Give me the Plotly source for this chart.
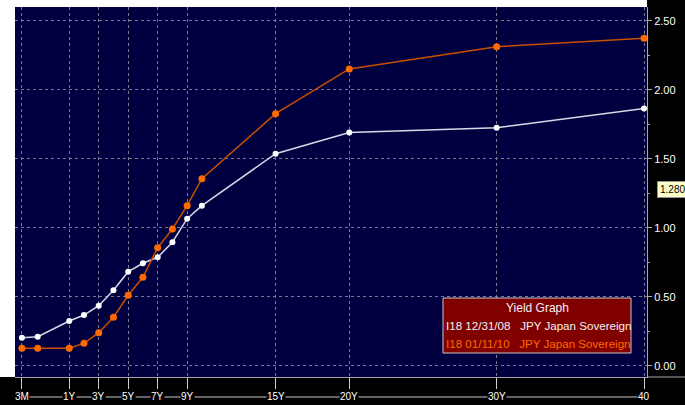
import plotly.graph_objects as go

# ---- data ----
tenors = ["3M", "6M", "1Y", "2Y", "3Y", "4Y", "5Y", "6Y", "7Y", "8Y", "9Y", "10Y", "15Y", "20Y", "30Y", "40Y"]
tenor_years = [0.25, 0.5, 1, 2, 3, 4, 5, 6, 7, 8, 9, 10, 15, 20, 30, 40]
yield_123108 = [0.205, 0.212, 0.326, 0.369, 0.437, 0.548, 0.683, 0.744, 0.787, 0.896, 1.067, 1.161,
                1.537, 1.690, 1.726, 1.865]
yield_011110 = [0.128, 0.128, 0.128, 0.164, 0.241, 0.353, 0.512, 0.642, 0.857, 0.992, 1.161, 1.356,
                1.827, 2.151, 2.312, 2.373]
tick_years = [0.25, 1, 3, 5, 7, 9, 15, 20, 30, 40]
tick_labels = ["3M", "1Y", "3Y", "5Y", "7Y", "9Y", "15Y", "20Y", "30Y", "40"]
ytick_vals = [0.0, 0.5, 1.0, 1.5, 2.0, 2.5]
ytick_labels = ["0.00", "0.50", "1.00", "1.50", "2.00", "2.50"]
series_names = ["I18 12/31/08\u00a0\u00a0\u00a0JPY Japan Sovereign",
                "I18 01/11/10\u00a0\u00a0\u00a0JPY Japan Sovereign"]
legend_title = "Yield Graph"
cursor_value = 1.280


def axis_pos(years):
    # Bloomberg-style stretched short end
    return years if years >= 1 else 1 - (1 - years) * 4.28


xs = [axis_pos(t) for t in tenor_years]
tick_pos = [axis_pos(t) for t in tick_years]

W, H = 685, 405
L, R, T, B = 15, 38, 7, 28
pw, ph = W - L - R, H - T - B

FONT = "Liberation Sans, Arial, sans-serif"

fig = go.Figure()
fig.add_trace(go.Scatter(
    x=xs, y=yield_123108, mode="lines+markers", name=series_names[0],
    line=dict(color="#D8D8E6", width=1.5),
    marker=dict(color="#FFFFFF", size=6),
    hoverinfo="skip"))
fig.add_trace(go.Scatter(
    x=xs, y=yield_011110, mode="lines+markers", name=series_names[1],
    line=dict(color="#C84E00", width=1.5),
    marker=dict(color="#FF6A00", size=7),
    hoverinfo="skip"))

shapes = [
    dict(type="rect", xref="paper", yref="paper", x0=1, x1=1.2, y0=-0.2, y1=1.2,
         fillcolor="black", line=dict(width=0), layer="below"),
    dict(type="rect", xref="paper", yref="paper", x0=-0.1, x1=1.2, y0=-0.2, y1=0,
         fillcolor="black", line=dict(width=0), layer="below"),
    dict(type="line", xref="paper", yref="paper", x0=1, x1=1.1, y0=0, y1=0,
         line=dict(color="#A8A8A8", width=1)),
    dict(type="line", xref="x", yref="paper", x0=tick_pos[0], x1=tick_pos[-1],
         y0=-20 / ph, y1=-20 / ph, line=dict(color="#C8C8C8", width=1)),
    dict(type="rect", xref="paper", yref="paper",
         x0=(443 - L) / pw, x1=(631 - L) / pw,
         y0=(H - B - 353) / ph, y1=(H - B - 298) / ph,
         fillcolor="#800000", line=dict(color="#C8C8C8", width=1), layer="above"),
]

annotations = []
for p, lab in zip(tick_pos, tick_labels):
    annotations.append(dict(
        x=p, xref="x", y=-20 / ph, yref="paper", text=lab, showarrow=False,
        xanchor="center", yanchor="middle", bgcolor="black", borderpad=0,
        font=dict(family=FONT, size=10, color="white")))

annotations.append(dict(
    x=(537 - L) / pw, xref="paper", y=(H - B - 308) / ph, yref="paper",
    text=legend_title, showarrow=False, xanchor="center", yanchor="middle",
    font=dict(family=FONT, size=12, color="#F0F0F0")))
annotations.append(dict(
    x=(444 - L) / pw, xref="paper", y=(H - B - 325.5) / ph, yref="paper",
    text=series_names[0], showarrow=False, xanchor="left", yanchor="middle",
    font=dict(family=FONT, size=11.6, color="#F0F0F0")))
annotations.append(dict(
    x=(444 - L) / pw, xref="paper", y=(H - B - 343) / ph, yref="paper",
    text=series_names[1], showarrow=False, xanchor="left", yanchor="middle",
    font=dict(family=FONT, size=11.6, color="#FF6A00")))
annotations.append(dict(
    x=(657 - L) / pw, xref="paper", y=cursor_value, yref="y",
    text=f"{cursor_value:.3f}", showarrow=False, xanchor="left", yanchor="middle",
    bgcolor="#FFFFCC", bordercolor="#909090", borderwidth=1, borderpad=2,
    font=dict(family=FONT, size=10, color="black")))

fig.update_layout(
    width=W, height=H,
    autosize=False,
    margin=dict(l=L, r=R, t=T, b=B, pad=0, autoexpand=False),
    paper_bgcolor="white",
    plot_bgcolor="#000040",
    showlegend=False,
    shapes=shapes,
    annotations=annotations,
    xaxis=dict(
        range=[axis_pos(0.25) - 0.47, 40.2],
        tickmode="array", tickvals=tick_pos, ticktext=[""] * len(tick_pos),
        showticklabels=False,
        ticks="outside", ticklen=11, tickcolor="#D0D0D0", tickwidth=1,
        showgrid=True, gridcolor="#7A7A8A", griddash="3px,3px", gridwidth=1,
        showline=True, linecolor="#A8A8A8", linewidth=1,
        zeroline=False, fixedrange=True,
    ),
    yaxis=dict(
        side="right",
        range=[-0.0797, 2.5996],
        tickmode="array", tickvals=ytick_vals, ticktext=ytick_labels,
        ticks="outside", ticklen=4, tickcolor="#A8A8A8",
        tickfont=dict(family=FONT, size=11, color="white"),
        minor=dict(tickmode="linear", tick0=0, dtick=0.25, ticks="outside", ticklen=2,
                   tickcolor="#A8A8A8", showgrid=False),
        showgrid=True, gridcolor="#7A7A8A", griddash="3px,3px", gridwidth=1,
        showline=True, linecolor="#A8A8A8", linewidth=1,
        zeroline=False, fixedrange=True, automargin=False,
    ),
)

fig.write_html("out.html", config={"responsive": False, "displayModeBar": False},
               post_script="document.body.style.margin='0';")
